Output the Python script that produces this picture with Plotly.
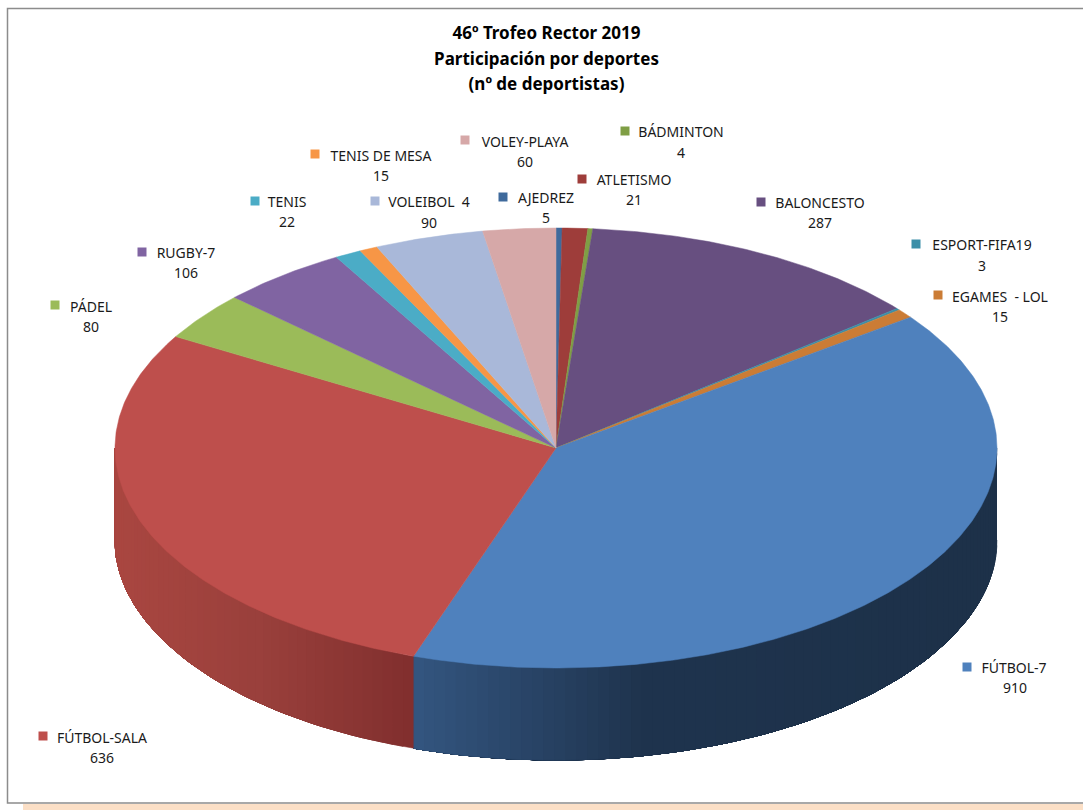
import numpy as np
import plotly.graph_objects as go

# ---- data -------------------------------------------------------------
categories = ["AJEDREZ", "ATLETISMO", "BÁDMINTON", "BALONCESTO", "ESPORT-FIFA19",
              "EGAMES  - LOL", "FÚTBOL-7", "FÚTBOL-SALA", "PÁDEL", "RUGBY-7",
              "TENIS", "TENIS DE MESA", "VOLEIBOL  4", "VOLEY-PLAYA"]
values = [5, 21, 4, 287, 3, 15, 910, 636, 80, 106, 22, 15, 90, 60]
title_lines = ["46º Trofeo Rector 2019", "Participación por deportes", "(nº de deportistas)"]

# ---- styles -----------------------------------------------------------
top_colors = ["#3F6A9C", "#9E3D3A", "#7F9E45", "#674F80", "#3B8FA8", "#CB7C35", "#4F81BD",
              "#BE4F4C", "#9BBB59", "#8064A2", "#4BACC6", "#F79646", "#A9B8D9", "#D6A8A8"]
# side-wall shading stops: (x in pixels, rgb)
side_stops = {
    "FÚTBOL-7": ([415, 520, 640, 997], [(0x34, 0x56, 0x80), (0x2A, 0x46, 0x69), (0x1F, 0x34, 0x4E), (0x1D, 0x31, 0x49)]),
    "FÚTBOL-SALA": ([115, 260, 415], [(0xAA, 0x47, 0x41), (0x9A, 0x40, 0x3C), (0x81, 0x2F, 0x2E)]),
}
# label layout in pixels: marker, name centre, value centre
label_layout = {
    "AJEDREZ": ((503, 197), (546, 199), (546, 219)),
    "ATLETISMO": ((582, 179), (634, 181), (634, 201)),
    "BÁDMINTON": ((625, 131), (681, 133), (681, 154)),
    "BALONCESTO": ((761, 202), (820, 204), (820, 224)),
    "ESPORT-FIFA19": ((916, 244), (982, 246), (982, 267)),
    "EGAMES  - LOL": ((938, 295), (1000, 298), (1000, 318)),
    "FÚTBOL-7": ((967, 667), (1014, 669), (1015, 689)),
    "FÚTBOL-SALA": ((43, 736), (102, 739), (102, 759)),
    "PÁDEL": ((55, 305), (91, 308), (91, 328)),
    "RUGBY-7": ((142, 252), (186, 254), (186, 274)),
    "TENIS": ((255, 201), (287, 203), (287, 223)),
    "TENIS DE MESA": ((315, 154), (381, 157), (381, 177)),
    "VOLEIBOL  4": ((375, 201), (429, 203), (429, 224)),
    "VOLEY-PLAYA": ((465, 140), (525, 143), (525, 163)),
}
CX, CY, RX, RY, DEPTH = 556, 448, 441, 220, 92
FONT = "Noto Sans"

# ---- geometry from the data -------------------------------------------
fractions = np.array(values) / sum(values)
edges = np.concatenate([[0], np.cumsum(fractions)]) * 2 * np.pi


def ex(t):
    return CX + RX * np.sin(t)


def ey(t):
    return CY - RY * np.cos(t)


fig = go.Figure()


def poly(xs, ys, color, name):
    fig.add_trace(go.Scatter(x=xs, y=ys, mode="lines", fill="toself", fillcolor=color,
                             line=dict(color=color, width=0.5), name=name,
                             hoverinfo="name", showlegend=False))


# side walls (only the front half of the rim is visible); each band runs on to
# the end of its slice and the next band paints over it, so no seams show
for i, cat in enumerate(categories):
    a0, a1 = max(edges[i], np.pi / 2), min(edges[i + 1], 3 * np.pi / 2)
    if a1 <= a0 or cat not in side_stops:
        continue
    stops_x, stops_c = side_stops[cat]
    cuts = np.linspace(a0, a1, int((a1 - a0) * 40) + 2)
    for t0, t1 in zip(cuts[:-1], cuts[1:]):
        ts = np.linspace(t0, a1, max(3, int((a1 - t0) * 40)))
        xmid = ex((t0 + t1) / 2)
        rgb = [np.interp(xmid, stops_x, [c[k] for c in stops_c]) for k in range(3)]
        color = "rgb(%d,%d,%d)" % tuple(rgb)
        poly(list(ex(ts)) + list(ex(ts[::-1])),
             list(ey(ts)) + list(ey(ts[::-1]) + DEPTH), color, cat)

# top face
for i, cat in enumerate(categories):
    ts = np.linspace(edges[i], edges[i + 1], max(3, int((edges[i + 1] - edges[i]) * 120)))
    poly([CX] + list(ex(ts)) + [CX], [CY] + list(ey(ts)) + [CY], top_colors[i],
         "%s: %d" % (cat, values[i]))

# label keys and texts
fig.add_trace(go.Scatter(
    x=[label_layout[c][0][0] for c in categories], y=[label_layout[c][0][1] for c in categories],
    mode="markers", marker=dict(symbol="square", size=9, color=top_colors, line=dict(width=0)),
    hoverinfo="skip", showlegend=False))
fig.add_trace(go.Scatter(
    x=[label_layout[c][1][0] for c in categories], y=[label_layout[c][1][1] for c in categories],
    mode="text", text=categories, textposition="middle center",
    textfont=dict(family=FONT, size=14, color="#1a1a1a"), hoverinfo="skip", showlegend=False))
fig.add_trace(go.Scatter(
    x=[label_layout[c][2][0] for c in categories], y=[label_layout[c][2][1] for c in categories],
    mode="text", text=[str(v) for v in values], textposition="middle center",
    textfont=dict(family=FONT, size=14, color="#1a1a1a"), hoverinfo="skip", showlegend=False))
fig.add_trace(go.Scatter(
    x=[546.5, 546.5, 546.5], y=[35, 61, 86], mode="text", text=["<b>%s</b>" % t for t in title_lines],
    textposition="middle center", textfont=dict(family=FONT, size=17, color="#000000"),
    hoverinfo="skip", showlegend=False))

fig.update_layout(
    width=1083, height=810, margin=dict(l=0, r=0, t=0, b=0),
    paper_bgcolor="#FFFFFF", plot_bgcolor="#FFFFFF", showlegend=False,
    xaxis=dict(range=[0, 1083], visible=False, fixedrange=True),
    yaxis=dict(range=[810, 0], visible=False, fixedrange=True),
    shapes=[
        dict(type="rect", layer="below", x0=23, x1=1083, y0=804, y1=810,
             fillcolor="#FBDFC6", line=dict(width=0)),
        dict(type="rect", layer="below", x0=7.5, x1=1090, y0=8.5, y1=803,
             fillcolor="#FFFFFF", line=dict(color="#8C8C8C", width=1.5)),
    ],
)
fig.write_html("out.html", config={"displayModeBar": False},
               post_script="document.body.style.margin='0';")
